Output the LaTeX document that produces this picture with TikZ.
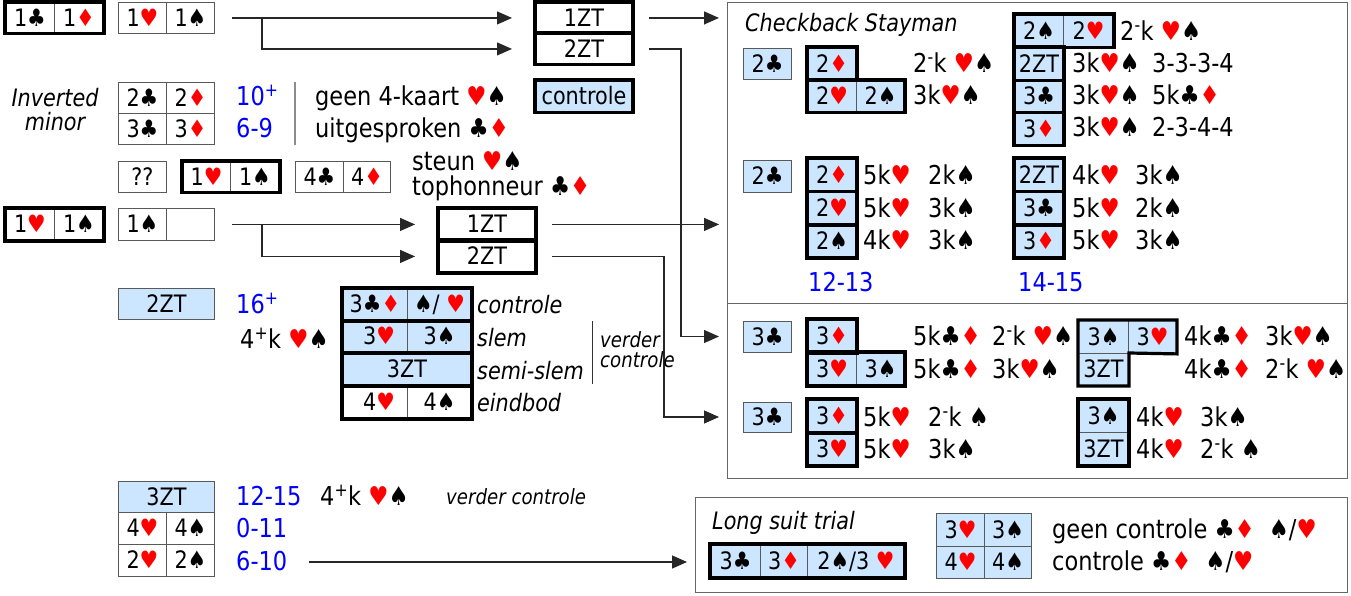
\documentclass[tikz,border=0pt]{standalone}
\usepackage{fontspec}
\setmainfont{DejaVu Sans}[FakeStretch=0.865]
\usetikzlibrary{arrows.meta}
\definecolor{lb}{RGB}{204,230,255}
\newcommand\fsz[1]{\fontsize{#1pt}{#1pt}\selectfont}
\newcommand\clb{♣}
\newcommand\spd{♠}
\newcommand\hrt{\textcolor{red}{♥}}
\newcommand\dmd{\textcolor{red}{♦}}
\newcommand\mn{\textsuperscript{-}}
\newcommand\pl{\textsuperscript{+}}
\newcommand\cel[7]{\node[cell,#6,minimum width=#4pt,minimum height=#5pt] (#1) at (#2,#3) {#7};}
\tikzset{
  cell/.style={draw=black!65, line width=0.9pt, inner sep=0pt, anchor=north west, font=\fsz{24}, text height=17pt, text depth=0pt},
  bl/.style={fill=lb},
  wh/.style={fill=white},
  tk/.style={draw=black, line width=3.2pt},
  txt/.style={anchor=west, inner sep=0pt, font=\fsz{26}, text height=17pt, text depth=0pt},
  num/.style={txt, text=blue},
  it/.style={anchor=west, inner sep=0pt, font=\fsz{24}\itshape, text height=17pt, text depth=0pt},
  sit/.style={anchor=west, inner sep=0pt, font=\fsz{21}\itshape, text height=15pt, text depth=0pt},
  panel/.style={draw=black!60, line width=1.4pt, anchor=north west, inner sep=0pt, fill=white},
  arr/.style={draw=black!85, line width=1.2pt, -{Triangle[length=15pt,width=13pt]}}
}
\begin{document}
\begin{tikzpicture}[x=1pt,y=-1pt]
\useasboundingbox[fill=white] (0,0) rectangle (1351,596);
% panels
\node[panel, minimum width=620pt, minimum height=301pt] (cs) at (727,2) {};
\node[panel, minimum width=620pt, minimum height=175pt] (lp) at (727,303) {};
\node[panel, minimum width=652pt, minimum height=95pt] (lst) at (695,497) {};

% ---- top left
\cel{a1}{5}{2}{49}{31}{wh}{1\clb}
\cel{a2}{54}{2}{49}{31}{wh}{1\dmd}
\draw[tk] (a1.north west) rectangle (a2.south east);
\cel{b1}{118}{2}{48}{31}{wh}{1\hrt}
\cel{b2}{166}{2}{48}{31}{wh}{1\spd}
\cel{zt1}{535}{2}{97}{31}{wh}{1ZT}
\cel{zt2}{535}{33}{97}{31}{wh}{2ZT}
\draw[tk] (zt1.north west) rectangle (zt1.south east);
\draw[tk] (zt2.north west) rectangle (zt2.south east);
\coordinate (j0) at (262,17.5);
\draw[arr, shorten <=17pt, shorten >=23pt] (b2.east) -- (zt1.west);
\draw[arr, shorten >=23pt] (j0) |- (zt2.west);
\draw[arr, shorten <=16pt, shorten >=8pt] (zt1.east) -- (zt1.east -| cs.west);
\draw[arr, shorten >=8pt] ([xshift=16pt]zt2.east) -- ++(32,0) |- (lp.west |- 0,336.5);

% inverted minor
\node[anchor=center, align=center, inner sep=0pt, font=\fsz{24}\itshape] (inv) at (55,110) {Inverted\\minor};
\cel{im1}{118}{82}{48}{31}{wh}{2\clb}
\cel{im2}{166}{82}{48}{31}{wh}{2\dmd}
\cel{im3}{118}{113}{48}{31}{wh}{3\clb}
\cel{im4}{166}{113}{48}{31}{wh}{3\dmd}
\node[num] (n10) at (236,97) {10\pl};
\node[num] (n69) at (236,129) {6-9};
\draw[draw=black!45, line width=2pt] (295,82) -- (295,145);
\node[txt] (g4k) at (315,97) {geen 4-kaart \hrt\spd};
\node[txt] (uit) at (315,129) {uitgesproken \clb\dmd};
\cel{ctl}{535}{80}{97}{32}{bl}{controle}
\draw[tk] (ctl.north west) rectangle (ctl.south east);

% row ??
\cel{qq}{118}{161}{48}{31}{wh}{??}
\cel{c1}{182}{161}{48}{31}{wh}{1\hrt}
\cel{c2}{230}{161}{49}{31}{wh}{1\spd}
\draw[tk] (c1.north west) rectangle (c2.south east);
\cel{f1}{295}{161}{48}{31}{wh}{4\clb}
\cel{f2}{343}{161}{47}{31}{wh}{4\dmd}
\node[txt] (steun) at (412,162) {steun \hrt\spd};
\node[txt] (toph) at (412,187) {tophonneur \clb\dmd};

% second opening
\cel{d1}{5}{208}{49}{32}{wh}{1\hrt}
\cel{d2}{54}{208}{49}{32}{wh}{1\spd}
\draw[tk] (d1.north west) rectangle (d2.south east);
\cel{e1}{118}{208}{48}{32}{wh}{1\spd}
\cel{e2}{166}{208}{48}{32}{wh}{}
\cel{zt3}{438}{208}{97}{32}{wh}{1ZT}
\cel{zt4}{438}{240}{97}{32}{wh}{2ZT}
\draw[tk] (zt3.north west) rectangle (zt3.south east);
\draw[tk] (zt4.north west) rectangle (zt4.south east);
\coordinate (j1) at (262,224);
\draw[arr, shorten <=17pt, shorten >=23pt] (e2.east) -- (zt3.west);
\draw[arr, shorten >=23pt] (j1) |- (zt4.west);
\draw[arr, shorten <=16pt, shorten >=8pt] (zt3.east) -- (zt3.east -| cs.west);
\draw[arr, shorten >=8pt] ([xshift=16pt]zt4.east) -- ++(112,0) |- (lp.west |- 0,417);

% 2ZT 16+
\cel{g2}{118}{288}{96}{31}{bl}{2ZT}
\node[num] (n16) at (236,305) {16\pl};
\node[txt] (k4a) at (240,340) {4\pl k \hrt\spd};
\cel{t1a}{342}{288}{65}{32}{bl}{3\clb\dmd}
\cel{t1b}{407}{288}{64}{32}{bl}{\spd/ \hrt}
\cel{t2a}{342}{320}{65}{32}{bl}{\hspace{8pt}3\hrt}
\cel{t2b}{407}{320}{64}{32}{bl}{3\spd\hspace{8pt}}
\cel{t3}{342}{352}{129}{33}{bl}{3ZT}
\cel{t4a}{342}{385}{65}{33}{wh}{\hspace{8pt}4\hrt}
\cel{t4b}{407}{385}{64}{33}{wh}{4\spd\hspace{8pt}}
\draw[tk] (t1a.north west) rectangle (t4b.south east);
\draw[tk] (t1a.south west) -- (t1b.south east);
\draw[tk] (t2a.south west) -- (t2b.south east);
\draw[tk] (t3.south west) -- (t3.south east);
\node[it] (lc) at (477,305) {controle};
\node[it] (ls) at (477,338) {slem};
\node[it] (lss) at (477,371) {semi-slem};
\node[it] (le) at (477,403) {eindbod};
\draw[draw=black!80, line width=1pt] (592,321) -- (592,384);
\node[sit] (vd1) at (600,340) {verder};
\node[sit] (vd2) at (600,360) {controle};

% bottom left
\cel{h1}{118}{481}{96}{31}{bl}{3ZT}
\cel{h2}{118}{512}{48}{32}{wh}{4\hrt}
\cel{h3}{166}{512}{48}{32}{wh}{4\spd}
\cel{h4}{118}{544}{48}{32}{wh}{2\hrt}
\cel{h5}{166}{544}{48}{32}{wh}{2\spd}
\node[num] (n1215) at (236,497) {12-15};
\node[txt] (k4b) at (320,497) {4\pl k \hrt\spd};
\node[sit] (vd3) at (446,497) {verder controle};
\node[num] (n011) at (236,529) {0-11};
\node[num] (n610) at (236,562) {6-10};
\draw[arr, shorten <=22pt, shorten >=8pt] (n610.east) -- (n610.east -| lst.west);

% long suit trial
\node[it] (lsth) at (712,521) {Long suit trial};
\cel{l1}{710}{544}{50}{33}{bl}{3\clb}
\cel{l2}{760}{544}{47}{33}{bl}{3\dmd}
\cel{l3}{807}{544}{97}{33}{bl}{2\spd/3 \hrt}
\draw[tk] (l1.north west) rectangle (l3.south east);
\cel{m1}{936}{513}{48}{33}{bl}{3\hrt}
\cel{m2}{984}{513}{47}{33}{bl}{3\spd}
\cel{m3}{936}{546}{48}{32}{bl}{4\hrt}
\cel{m4}{984}{546}{47}{32}{bl}{4\spd}
\node[txt] (gc) at (1052,530) {geen controle \clb\dmd\hspace{14pt}\spd/\hrt};
\node[txt] (cc) at (1052,562) {controle \clb\dmd\hspace{14pt}\spd/\hrt};

% checkback stayman
\node[it] (csh) at (745,23) {Checkback Stayman};
\cel{p1}{743}{48}{48}{31}{bl}{2\clb}
\cel{p2}{807}{47}{49}{33}{bl}{2\dmd}
\cel{p3}{807}{80}{49}{32}{bl}{2\hrt}
\cel{p4}{856}{80}{48}{32}{bl}{2\spd}
\draw[tk] (p2.north west) rectangle (p2.south east);
\draw[tk] (p3.north west) rectangle (p4.south east);
\node[txt] (x1) at (913,64) {2\mn k \hrt\spd};
\node[txt] (x2) at (913,96) {3k\hrt\spd};
\cel{r1}{1014}{14}{49}{33}{bl}{2\spd}
\cel{r2}{1063}{14}{50}{33}{bl}{2\hrt}
\cel{r3}{1014}{47}{49}{33}{bl}{2ZT}
\cel{r4}{1014}{80}{49}{32}{bl}{3\clb}
\cel{r5}{1014}{112}{49}{33}{bl}{3\dmd}
\draw[tk] (r1.north west) rectangle (r2.south east);
\draw[tk] (r3.north west) rectangle (r5.south east);
\draw[tk] (r3.south west) -- (r3.south east);
\draw[tk] (r4.south west) -- (r4.south east);
\node[txt] (y1) at (1120,32) {2\mn k \hrt\spd};
\node[txt] (y2) at (1072,64) {3k\hrt\spd};
\node[txt] (y3) at (1152,64) {3-3-3-4};
\node[txt] (y4) at (1072,96) {3k\hrt\spd};
\node[txt] (y5) at (1152,96) {5k\clb\dmd};
\node[txt] (y6) at (1072,128) {3k\hrt\spd};
\node[txt] (y7) at (1152,128) {2-3-4-4};

\cel{p5}{743}{160}{48}{32}{bl}{2\clb}
\cel{p6}{807}{158}{49}{33}{bl}{2\dmd}
\cel{p7}{807}{191}{49}{33}{bl}{2\hrt}
\cel{p8}{807}{224}{49}{33}{bl}{2\spd}
\draw[tk] (p6.north west) rectangle (p8.south east);
\draw[tk] (p6.south west) -- (p6.south east);
\draw[tk] (p7.south west) -- (p7.south east);
\node[txt] (z1) at (863,176) {5k\hrt};
\node[txt] (z2) at (928,176) {2k\spd};
\node[txt] (z3) at (863,209) {5k\hrt};
\node[txt] (z4) at (928,209) {3k\spd};
\node[txt] (z5) at (863,241) {4k\hrt};
\node[txt] (z6) at (928,241) {3k\spd};
\node[num] (n1213) at (808,283) {12-13};
\cel{r6}{1014}{158}{49}{33}{bl}{2ZT}
\cel{r7}{1014}{191}{49}{33}{bl}{3\clb}
\cel{r8}{1014}{224}{49}{33}{bl}{3\dmd}
\draw[tk] (r6.north west) rectangle (r8.south east);
\draw[tk] (r6.south west) -- (r6.south east);
\draw[tk] (r7.south west) -- (r7.south east);
\node[txt] (w1) at (1072,176) {4k\hrt};
\node[txt] (w2) at (1135,176) {3k\spd};
\node[txt] (w3) at (1072,209) {5k\hrt};
\node[txt] (w4) at (1135,209) {2k\spd};
\node[txt] (w5) at (1072,241) {5k\hrt};
\node[txt] (w6) at (1135,241) {3k\spd};
\node[num] (n1415) at (1018,283) {14-15};

% lower panel
\cel{u1}{743}{321}{48}{31}{bl}{3\clb}
\cel{u2}{807}{319}{49}{33}{bl}{3\dmd}
\cel{u3}{807}{352}{49}{33}{bl}{3\hrt}
\cel{u4}{856}{352}{48}{33}{bl}{3\spd}
\draw[tk] (u2.north west) rectangle (u2.south east);
\draw[tk] (u3.north west) rectangle (u4.south east);
\node[txt] (s1) at (913,337) {5k\clb\dmd};
\node[txt] (s2) at (992,337) {2\mn k \hrt\spd};
\node[txt] (s3) at (913,370) {5k\clb\dmd};
\node[txt] (s4) at (992,370) {3k\hrt\spd};
\cel{v1}{1078}{320}{50}{33}{bl}{3\spd}
\cel{v2}{1128}{320}{48}{33}{bl}{3\hrt}
\cel{v3}{1078}{353}{50}{32}{bl}{3ZT}
\draw[tk] (v1.north west) -- (v2.north east) -- (v2.south east) -- (v3.north east) -- (v3.south east) -- (v3.south west) -- cycle;
\node[txt] (o1) at (1184,337) {4k\clb\dmd};
\node[txt] (o2) at (1265,337) {3k\hrt\spd};
\node[txt] (o3) at (1184,370) {4k\clb\dmd};
\node[txt] (o4) at (1265,370) {2\mn k \hrt\spd};

\cel{u5}{743}{402}{48}{30}{bl}{3\clb}
\cel{u6}{807}{399}{49}{33}{bl}{3\dmd}
\cel{u7}{807}{432}{49}{33}{bl}{3\hrt}
\draw[tk] (u6.north west) rectangle (u7.south east);
\draw[tk] (u6.south west) -- (u6.south east);
\node[txt] (q1) at (863,418) {5k\hrt};
\node[txt] (q2) at (928,418) {2\mn k \spd};
\node[txt] (q3) at (863,450) {5k\hrt};
\node[txt] (q4) at (928,450) {3k\spd};
\cel{v4}{1078}{399}{50}{33}{bl}{3\spd}
\cel{v5}{1078}{432}{50}{33}{bl}{3ZT}
\draw[tk] (v4.north west) rectangle (v5.south east);
\node[txt] (k1) at (1136,418) {4k\hrt};
\node[txt] (k2) at (1200,418) {3k\spd};
\node[txt] (k3) at (1136,450) {4k\hrt};
\node[txt] (k4) at (1200,450) {2\mn k \spd};
\end{tikzpicture}
\end{document}
